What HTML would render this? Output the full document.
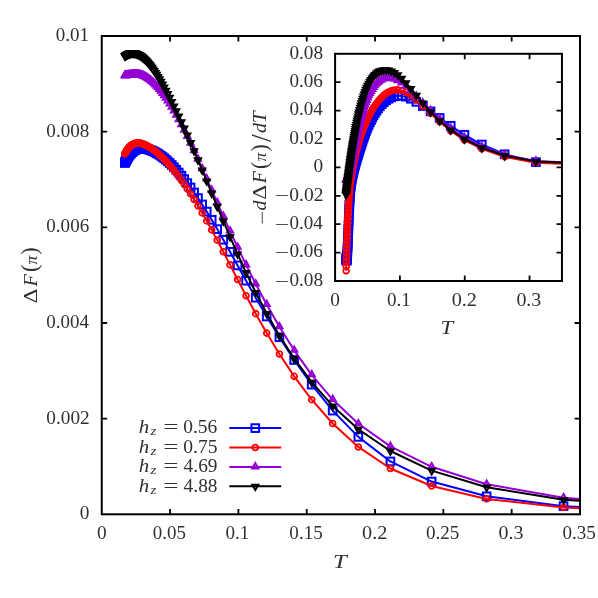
<!DOCTYPE html>
<html><head><meta charset="utf-8"><title>plot</title>
<style>html,body{margin:0;padding:0;background:#fff}svg{display:block;will-change:transform}</style></head>
<body>
<svg width="598" height="598" viewBox="0 0 598 598">
<rect width="598" height="598" fill="#fff"/>
<defs>
<clipPath id="clipm"><rect x="101.75" y="30" width="478.25" height="484.3"/></clipPath>
<clipPath id="clipi"><rect x="335.1" y="53.8" width="226.85" height="227.2"/></clipPath>
<rect id="sq" x="-3.83" y="-3.83" width="7.66" height="7.66" stroke-width="2" stroke-linejoin="miter"/>
<circle id="ci" r="2.9" stroke-width="1.8"/>
<path id="tu" d="M0 -3.8 L-3.05 1.53 L3.05 1.53 Z" stroke-width="2" stroke-linejoin="miter" stroke-miterlimit="10"/>
<path id="td" d="M0 3.8 L-3.05 -1.53 L3.05 -1.53 Z" stroke-width="2" stroke-linejoin="miter" stroke-miterlimit="10"/>
</defs>
<g clip-path="url(#clipm)" stroke="#0000ff" fill="none">
<path d="M679.07 512.26 L563.6 506.15 L486.63 496.32 L431.64 481.55 L390.41 461.45 L358.33 436.88 L332.68 410.61 L311.68 384.62 L294.19 359.99 L279.39 337.26 L266.7 316.51 L255.7 297.67 L246.08 280.68 L237.59 265.43 L230.04 251.82 L223.29 239.75 L217.21 229.11 L211.71 219.79 L206.72 211.61 L202.15 204.42 L197.97 198.07 L194.12 192.46 L190.57 187.49 L187.28 183.08 L184.22 179.15 L181.38 175.65 L178.73 172.52 L176.24 169.74 L173.91 167.25 L171.73 165.02 L169.67 163.04 L167.73 161.26 L165.9 159.67 L164.16 158.25 L162.52 156.98 L160.96 155.84 L159.48 154.83 L158.07 153.93 L156.73 153.12 L155.45 152.4 L154.23 151.76 L153.07 151.2 L151.95 150.69 L150.88 150.25 L149.86 149.85 L148.88 149.51 L147.94 149.21 L147.03 148.95 L146.16 148.73 L145.32 148.56 L144.51 148.42 L143.74 148.32 L142.99 148.25 L142.26 148.21 L141.56 148.2 L140.89 148.22 L140.24 148.27 L139.61 148.34 L139 148.44 L138.4 148.56 L137.83 148.7 L137.28 148.87 L136.74 149.05 L136.22 149.26 L135.71 149.48 L135.22 149.72 L134.74 149.98 L134.27 150.26 L133.82 150.55 L133.38 150.85 L132.96 151.17 L132.54 151.51 L132.14 151.85 L131.74 152.21 L131.36 152.58 L130.98 152.97 L130.62 153.36 L130.26 153.76 L129.91 154.18 L129.57 154.6 L129.24 155.04 L128.92 155.48 L128.6 155.93 L128.29 156.39 L127.99 156.86 L127.7 157.33 L127.41 157.82 L127.13 158.31 L126.85 158.8 L126.58 159.31 L126.32 159.82 L126.06 160.33 L125.8 160.85 L125.56 161.38 L125.31 161.91 L125.08 162.45 L124.84 162.99" stroke-width="2" stroke-linejoin="round"/>
<use href="#sq" x="679.07" y="512.26"/>
<use href="#sq" x="563.6" y="506.15"/>
<use href="#sq" x="486.63" y="496.32"/>
<use href="#sq" x="431.64" y="481.55"/>
<use href="#sq" x="390.41" y="461.45"/>
<use href="#sq" x="358.33" y="436.88"/>
<use href="#sq" x="332.68" y="410.61"/>
<use href="#sq" x="311.68" y="384.62"/>
<use href="#sq" x="294.19" y="359.99"/>
<use href="#sq" x="279.39" y="337.26"/>
<use href="#sq" x="266.7" y="316.51"/>
<use href="#sq" x="255.7" y="297.67"/>
<use href="#sq" x="246.08" y="280.68"/>
<use href="#sq" x="237.59" y="265.43"/>
<use href="#sq" x="230.04" y="251.82"/>
<use href="#sq" x="223.29" y="239.75"/>
<use href="#sq" x="217.21" y="229.11"/>
<use href="#sq" x="211.71" y="219.79"/>
<use href="#sq" x="206.72" y="211.61"/>
<use href="#sq" x="202.15" y="204.42"/>
<use href="#sq" x="197.97" y="198.07"/>
<use href="#sq" x="194.12" y="192.46"/>
<use href="#sq" x="190.57" y="187.49"/>
<use href="#sq" x="187.28" y="183.08"/>
<use href="#sq" x="184.22" y="179.15"/>
<use href="#sq" x="181.38" y="175.65"/>
<use href="#sq" x="178.73" y="172.52"/>
<use href="#sq" x="176.24" y="169.74"/>
<use href="#sq" x="173.91" y="167.25"/>
<use href="#sq" x="171.73" y="165.02"/>
<use href="#sq" x="169.67" y="163.04"/>
<use href="#sq" x="167.73" y="161.26"/>
<use href="#sq" x="165.9" y="159.67"/>
<use href="#sq" x="164.16" y="158.25"/>
<use href="#sq" x="162.52" y="156.98"/>
<use href="#sq" x="160.96" y="155.84"/>
<use href="#sq" x="159.48" y="154.83"/>
<use href="#sq" x="158.07" y="153.93"/>
<use href="#sq" x="156.73" y="153.12"/>
<use href="#sq" x="155.45" y="152.4"/>
<use href="#sq" x="154.23" y="151.76"/>
<use href="#sq" x="153.07" y="151.2"/>
<use href="#sq" x="151.95" y="150.69"/>
<use href="#sq" x="150.88" y="150.25"/>
<use href="#sq" x="149.86" y="149.85"/>
<use href="#sq" x="148.88" y="149.51"/>
<use href="#sq" x="147.94" y="149.21"/>
<use href="#sq" x="147.03" y="148.95"/>
<use href="#sq" x="146.16" y="148.73"/>
<use href="#sq" x="145.32" y="148.56"/>
<use href="#sq" x="144.51" y="148.42"/>
<use href="#sq" x="143.74" y="148.32"/>
<use href="#sq" x="142.99" y="148.25"/>
<use href="#sq" x="142.26" y="148.21"/>
<use href="#sq" x="141.56" y="148.2"/>
<use href="#sq" x="140.89" y="148.22"/>
<use href="#sq" x="140.24" y="148.27"/>
<use href="#sq" x="139.61" y="148.34"/>
<use href="#sq" x="139" y="148.44"/>
<use href="#sq" x="138.4" y="148.56"/>
<use href="#sq" x="137.83" y="148.7"/>
<use href="#sq" x="137.28" y="148.87"/>
<use href="#sq" x="136.74" y="149.05"/>
<use href="#sq" x="136.22" y="149.26"/>
<use href="#sq" x="135.71" y="149.48"/>
<use href="#sq" x="135.22" y="149.72"/>
<use href="#sq" x="134.74" y="149.98"/>
<use href="#sq" x="134.27" y="150.26"/>
<use href="#sq" x="133.82" y="150.55"/>
<use href="#sq" x="133.38" y="150.85"/>
<use href="#sq" x="132.96" y="151.17"/>
<use href="#sq" x="132.54" y="151.51"/>
<use href="#sq" x="132.14" y="151.85"/>
<use href="#sq" x="131.74" y="152.21"/>
<use href="#sq" x="131.36" y="152.58"/>
<use href="#sq" x="130.98" y="152.97"/>
<use href="#sq" x="130.62" y="153.36"/>
<use href="#sq" x="130.26" y="153.76"/>
<use href="#sq" x="129.91" y="154.18"/>
<use href="#sq" x="129.57" y="154.6"/>
<use href="#sq" x="129.24" y="155.04"/>
<use href="#sq" x="128.92" y="155.48"/>
<use href="#sq" x="128.6" y="155.93"/>
<use href="#sq" x="128.29" y="156.39"/>
<use href="#sq" x="127.99" y="156.86"/>
<use href="#sq" x="127.7" y="157.33"/>
<use href="#sq" x="127.41" y="157.82"/>
<use href="#sq" x="127.13" y="158.31"/>
<use href="#sq" x="126.85" y="158.8"/>
<use href="#sq" x="126.58" y="159.31"/>
<use href="#sq" x="126.32" y="159.82"/>
<use href="#sq" x="126.06" y="160.33"/>
<use href="#sq" x="125.8" y="160.85"/>
<use href="#sq" x="125.56" y="161.38"/>
<use href="#sq" x="125.31" y="161.91"/>
<use href="#sq" x="125.08" y="162.45"/>
<use href="#sq" x="124.84" y="162.99"/>
</g>
<g clip-path="url(#clipm)" stroke="#ff0000" fill="none">
<path d="M679.07 512.76 L563.6 507.47 L486.63 498.91 L431.64 486.04 L390.41 468.5 L358.33 446.95 L332.68 423.5 L311.68 399.68 L294.19 376.36 L279.39 354.05 L266.7 333.09 L255.7 313.64 L246.08 295.79 L237.59 279.54 L230.04 264.89 L223.29 251.78 L217.21 240.16 L211.71 229.92 L206.72 220.9 L202.15 212.93 L197.97 205.85 L194.12 199.55 L190.57 193.93 L187.28 188.9 L184.22 184.39 L181.38 180.34 L178.73 176.69 L176.24 173.4 L173.91 170.42 L171.73 167.73 L169.67 165.3 L167.73 163.1 L165.9 161.1 L164.16 159.28 L162.52 157.63 L160.96 156.13 L159.48 154.76 L158.07 153.51 L156.73 152.38 L155.45 151.34 L154.23 150.39 L153.07 149.52 L151.95 148.73 L150.88 148 L149.86 147.34 L148.88 146.74 L147.94 146.19 L147.03 145.7 L146.16 145.26 L145.32 144.86 L144.51 144.51 L143.74 144.21 L142.99 143.94 L142.26 143.72 L141.56 143.53 L140.89 143.37 L140.24 143.25 L139.61 143.16 L139 143.1 L138.4 143.07 L137.83 143.06 L137.28 143.08 L136.74 143.13 L136.22 143.2 L135.71 143.29 L135.22 143.41 L134.74 143.54 L134.27 143.7 L133.82 143.87 L133.38 144.06 L132.96 144.27 L132.54 144.49 L132.14 144.73 L131.74 144.99 L131.36 145.26 L130.98 145.54 L130.62 145.84 L130.26 146.15 L129.91 146.47 L129.57 146.81 L129.24 147.15 L128.92 147.51 L128.6 147.87 L128.29 148.25 L127.99 148.63 L127.7 149.03 L127.41 149.43 L127.13 149.85 L126.85 150.27 L126.58 150.69 L126.32 151.13 L126.06 151.57 L125.8 152.02 L125.56 152.48 L125.31 152.94 L125.08 153.41 L124.84 153.89" stroke-width="2" stroke-linejoin="round"/>
<use href="#ci" x="679.07" y="512.76"/>
<use href="#ci" x="563.6" y="507.47"/>
<use href="#ci" x="486.63" y="498.91"/>
<use href="#ci" x="431.64" y="486.04"/>
<use href="#ci" x="390.41" y="468.5"/>
<use href="#ci" x="358.33" y="446.95"/>
<use href="#ci" x="332.68" y="423.5"/>
<use href="#ci" x="311.68" y="399.68"/>
<use href="#ci" x="294.19" y="376.36"/>
<use href="#ci" x="279.39" y="354.05"/>
<use href="#ci" x="266.7" y="333.09"/>
<use href="#ci" x="255.7" y="313.64"/>
<use href="#ci" x="246.08" y="295.79"/>
<use href="#ci" x="237.59" y="279.54"/>
<use href="#ci" x="230.04" y="264.89"/>
<use href="#ci" x="223.29" y="251.78"/>
<use href="#ci" x="217.21" y="240.16"/>
<use href="#ci" x="211.71" y="229.92"/>
<use href="#ci" x="206.72" y="220.9"/>
<use href="#ci" x="202.15" y="212.93"/>
<use href="#ci" x="197.97" y="205.85"/>
<use href="#ci" x="194.12" y="199.55"/>
<use href="#ci" x="190.57" y="193.93"/>
<use href="#ci" x="187.28" y="188.9"/>
<use href="#ci" x="184.22" y="184.39"/>
<use href="#ci" x="181.38" y="180.34"/>
<use href="#ci" x="178.73" y="176.69"/>
<use href="#ci" x="176.24" y="173.4"/>
<use href="#ci" x="173.91" y="170.42"/>
<use href="#ci" x="171.73" y="167.73"/>
<use href="#ci" x="169.67" y="165.3"/>
<use href="#ci" x="167.73" y="163.1"/>
<use href="#ci" x="165.9" y="161.1"/>
<use href="#ci" x="164.16" y="159.28"/>
<use href="#ci" x="162.52" y="157.63"/>
<use href="#ci" x="160.96" y="156.13"/>
<use href="#ci" x="159.48" y="154.76"/>
<use href="#ci" x="158.07" y="153.51"/>
<use href="#ci" x="156.73" y="152.38"/>
<use href="#ci" x="155.45" y="151.34"/>
<use href="#ci" x="154.23" y="150.39"/>
<use href="#ci" x="153.07" y="149.52"/>
<use href="#ci" x="151.95" y="148.73"/>
<use href="#ci" x="150.88" y="148"/>
<use href="#ci" x="149.86" y="147.34"/>
<use href="#ci" x="148.88" y="146.74"/>
<use href="#ci" x="147.94" y="146.19"/>
<use href="#ci" x="147.03" y="145.7"/>
<use href="#ci" x="146.16" y="145.26"/>
<use href="#ci" x="145.32" y="144.86"/>
<use href="#ci" x="144.51" y="144.51"/>
<use href="#ci" x="143.74" y="144.21"/>
<use href="#ci" x="142.99" y="143.94"/>
<use href="#ci" x="142.26" y="143.72"/>
<use href="#ci" x="141.56" y="143.53"/>
<use href="#ci" x="140.89" y="143.37"/>
<use href="#ci" x="140.24" y="143.25"/>
<use href="#ci" x="139.61" y="143.16"/>
<use href="#ci" x="139" y="143.1"/>
<use href="#ci" x="138.4" y="143.07"/>
<use href="#ci" x="137.83" y="143.06"/>
<use href="#ci" x="137.28" y="143.08"/>
<use href="#ci" x="136.74" y="143.13"/>
<use href="#ci" x="136.22" y="143.2"/>
<use href="#ci" x="135.71" y="143.29"/>
<use href="#ci" x="135.22" y="143.41"/>
<use href="#ci" x="134.74" y="143.54"/>
<use href="#ci" x="134.27" y="143.7"/>
<use href="#ci" x="133.82" y="143.87"/>
<use href="#ci" x="133.38" y="144.06"/>
<use href="#ci" x="132.96" y="144.27"/>
<use href="#ci" x="132.54" y="144.49"/>
<use href="#ci" x="132.14" y="144.73"/>
<use href="#ci" x="131.74" y="144.99"/>
<use href="#ci" x="131.36" y="145.26"/>
<use href="#ci" x="130.98" y="145.54"/>
<use href="#ci" x="130.62" y="145.84"/>
<use href="#ci" x="130.26" y="146.15"/>
<use href="#ci" x="129.91" y="146.47"/>
<use href="#ci" x="129.57" y="146.81"/>
<use href="#ci" x="129.24" y="147.15"/>
<use href="#ci" x="128.92" y="147.51"/>
<use href="#ci" x="128.6" y="147.87"/>
<use href="#ci" x="128.29" y="148.25"/>
<use href="#ci" x="127.99" y="148.63"/>
<use href="#ci" x="127.7" y="149.03"/>
<use href="#ci" x="127.41" y="149.43"/>
<use href="#ci" x="127.13" y="149.85"/>
<use href="#ci" x="126.85" y="150.27"/>
<use href="#ci" x="126.58" y="150.69"/>
<use href="#ci" x="126.32" y="151.13"/>
<use href="#ci" x="126.06" y="151.57"/>
<use href="#ci" x="125.8" y="152.02"/>
<use href="#ci" x="125.56" y="152.48"/>
<use href="#ci" x="125.31" y="152.94"/>
<use href="#ci" x="125.08" y="153.41"/>
<use href="#ci" x="124.84" y="153.89"/>
</g>
<g clip-path="url(#clipm)" stroke="#9400d3" fill="none">
<path d="M679.07 506.86 L563.6 497.8 L486.63 484.23 L431.64 466.79 L390.41 446.38 L358.33 423.73 L332.68 399.54 L311.68 374.81 L294.19 350.33 L279.39 326.77 L266.7 304.57 L255.7 283.94 L246.08 264.86 L237.59 247.27 L230.04 231.09 L223.29 216.24 L217.21 202.64 L211.71 190.22 L206.72 178.89 L202.15 168.6 L197.97 159.27 L194.12 150.84 L190.57 143.26 L187.28 136.43 L184.22 130.27 L181.38 124.71 L178.73 119.68 L176.24 115.14 L173.91 111.03 L171.73 107.3 L169.67 103.93 L167.73 100.88 L165.9 98.11 L164.16 95.61 L162.52 93.35 L160.96 91.3 L159.48 89.45 L158.07 87.77 L156.73 86.25 L155.45 84.88 L154.23 83.65 L153.07 82.53 L151.95 81.53 L150.88 80.63 L149.86 79.82 L148.88 79.1 L147.94 78.45 L147.03 77.87 L146.16 77.36 L145.32 76.91 L144.51 76.51 L143.74 76.16 L142.99 75.85 L142.26 75.59 L141.56 75.36 L140.89 75.16 L140.24 75 L139.61 74.86 L139 74.75 L138.4 74.66 L137.83 74.6 L137.28 74.55 L136.74 74.51 L136.22 74.49 L135.71 74.49 L135.22 74.49 L134.74 74.51 L134.27 74.53 L133.82 74.57 L133.38 74.61 L132.96 74.65 L132.54 74.7 L132.14 74.75 L131.74 74.81 L131.36 74.86 L130.98 74.92 L130.62 74.98 L130.26 75.04 L129.91 75.1 L129.57 75.15 L129.24 75.21 L128.92 75.26 L128.6 75.31 L128.29 75.36 L127.99 75.4 L127.7 75.44 L127.41 75.48 L127.13 75.51 L126.85 75.54 L126.58 75.57 L126.32 75.58 L126.06 75.6 L125.8 75.6 L125.56 75.61 L125.31 75.6 L125.08 75.59 L124.84 75.58" stroke-width="2" stroke-linejoin="round"/>
<use href="#tu" x="679.07" y="506.86"/>
<use href="#tu" x="563.6" y="497.8"/>
<use href="#tu" x="486.63" y="484.23"/>
<use href="#tu" x="431.64" y="466.79"/>
<use href="#tu" x="390.41" y="446.38"/>
<use href="#tu" x="358.33" y="423.73"/>
<use href="#tu" x="332.68" y="399.54"/>
<use href="#tu" x="311.68" y="374.81"/>
<use href="#tu" x="294.19" y="350.33"/>
<use href="#tu" x="279.39" y="326.77"/>
<use href="#tu" x="266.7" y="304.57"/>
<use href="#tu" x="255.7" y="283.94"/>
<use href="#tu" x="246.08" y="264.86"/>
<use href="#tu" x="237.59" y="247.27"/>
<use href="#tu" x="230.04" y="231.09"/>
<use href="#tu" x="223.29" y="216.24"/>
<use href="#tu" x="217.21" y="202.64"/>
<use href="#tu" x="211.71" y="190.22"/>
<use href="#tu" x="206.72" y="178.89"/>
<use href="#tu" x="202.15" y="168.6"/>
<use href="#tu" x="197.97" y="159.27"/>
<use href="#tu" x="194.12" y="150.84"/>
<use href="#tu" x="190.57" y="143.26"/>
<use href="#tu" x="187.28" y="136.43"/>
<use href="#tu" x="184.22" y="130.27"/>
<use href="#tu" x="181.38" y="124.71"/>
<use href="#tu" x="178.73" y="119.68"/>
<use href="#tu" x="176.24" y="115.14"/>
<use href="#tu" x="173.91" y="111.03"/>
<use href="#tu" x="171.73" y="107.3"/>
<use href="#tu" x="169.67" y="103.93"/>
<use href="#tu" x="167.73" y="100.88"/>
<use href="#tu" x="165.9" y="98.11"/>
<use href="#tu" x="164.16" y="95.61"/>
<use href="#tu" x="162.52" y="93.35"/>
<use href="#tu" x="160.96" y="91.3"/>
<use href="#tu" x="159.48" y="89.45"/>
<use href="#tu" x="158.07" y="87.77"/>
<use href="#tu" x="156.73" y="86.25"/>
<use href="#tu" x="155.45" y="84.88"/>
<use href="#tu" x="154.23" y="83.65"/>
<use href="#tu" x="153.07" y="82.53"/>
<use href="#tu" x="151.95" y="81.53"/>
<use href="#tu" x="150.88" y="80.63"/>
<use href="#tu" x="149.86" y="79.82"/>
<use href="#tu" x="148.88" y="79.1"/>
<use href="#tu" x="147.94" y="78.45"/>
<use href="#tu" x="147.03" y="77.87"/>
<use href="#tu" x="146.16" y="77.36"/>
<use href="#tu" x="145.32" y="76.91"/>
<use href="#tu" x="144.51" y="76.51"/>
<use href="#tu" x="143.74" y="76.16"/>
<use href="#tu" x="142.99" y="75.85"/>
<use href="#tu" x="142.26" y="75.59"/>
<use href="#tu" x="141.56" y="75.36"/>
<use href="#tu" x="140.89" y="75.16"/>
<use href="#tu" x="140.24" y="75"/>
<use href="#tu" x="139.61" y="74.86"/>
<use href="#tu" x="139" y="74.75"/>
<use href="#tu" x="138.4" y="74.66"/>
<use href="#tu" x="137.83" y="74.6"/>
<use href="#tu" x="137.28" y="74.55"/>
<use href="#tu" x="136.74" y="74.51"/>
<use href="#tu" x="136.22" y="74.49"/>
<use href="#tu" x="135.71" y="74.49"/>
<use href="#tu" x="135.22" y="74.49"/>
<use href="#tu" x="134.74" y="74.51"/>
<use href="#tu" x="134.27" y="74.53"/>
<use href="#tu" x="133.82" y="74.57"/>
<use href="#tu" x="133.38" y="74.61"/>
<use href="#tu" x="132.96" y="74.65"/>
<use href="#tu" x="132.54" y="74.7"/>
<use href="#tu" x="132.14" y="74.75"/>
<use href="#tu" x="131.74" y="74.81"/>
<use href="#tu" x="131.36" y="74.86"/>
<use href="#tu" x="130.98" y="74.92"/>
<use href="#tu" x="130.62" y="74.98"/>
<use href="#tu" x="130.26" y="75.04"/>
<use href="#tu" x="129.91" y="75.1"/>
<use href="#tu" x="129.57" y="75.15"/>
<use href="#tu" x="129.24" y="75.21"/>
<use href="#tu" x="128.92" y="75.26"/>
<use href="#tu" x="128.6" y="75.31"/>
<use href="#tu" x="128.29" y="75.36"/>
<use href="#tu" x="127.99" y="75.4"/>
<use href="#tu" x="127.7" y="75.44"/>
<use href="#tu" x="127.41" y="75.48"/>
<use href="#tu" x="127.13" y="75.51"/>
<use href="#tu" x="126.85" y="75.54"/>
<use href="#tu" x="126.58" y="75.57"/>
<use href="#tu" x="126.32" y="75.58"/>
<use href="#tu" x="126.06" y="75.6"/>
<use href="#tu" x="125.8" y="75.6"/>
<use href="#tu" x="125.56" y="75.61"/>
<use href="#tu" x="125.31" y="75.6"/>
<use href="#tu" x="125.08" y="75.59"/>
<use href="#tu" x="124.84" y="75.58"/>
</g>
<g clip-path="url(#clipm)" stroke="#000000" fill="none">
<path d="M679.07 506.77 L563.6 499.71 L486.63 487.17 L431.64 470.59 L390.41 451.02 L358.33 429.24 L332.68 405.95 L311.68 382.17 L294.19 358.61 L279.39 335.66 L266.7 313.57 L255.7 292.5 L246.08 272.61 L237.59 254.02 L230.04 236.78 L223.29 220.91 L217.21 206.37 L211.71 193.08 L206.72 180.95 L202.15 169.91 L197.97 159.87 L194.12 150.76 L190.57 142.47 L187.28 134.93 L184.22 128.05 L181.38 121.77 L178.73 116.02 L176.24 110.74 L173.91 105.91 L171.73 101.46 L169.67 97.38 L167.73 93.62 L165.9 90.16 L164.16 86.97 L162.52 84.03 L160.96 81.32 L159.48 78.82 L158.07 76.51 L156.73 74.38 L155.45 72.42 L154.23 70.6 L153.07 68.93 L151.95 67.38 L150.88 65.96 L149.86 64.65 L148.88 63.44 L147.94 62.33 L147.03 61.31 L146.16 60.37 L145.32 59.51 L144.51 58.72 L143.74 58 L142.99 57.34 L142.26 56.74 L141.56 56.2 L140.89 55.71 L140.24 55.26 L139.61 54.86 L139 54.5 L138.4 54.19 L137.83 53.9 L137.28 53.66 L136.74 53.44 L136.22 53.26 L135.71 53.1 L135.22 52.97 L134.74 52.87 L134.27 52.78 L133.82 52.72 L133.38 52.68 L132.96 52.66 L132.54 52.66 L132.14 52.67 L131.74 52.7 L131.36 52.74 L130.98 52.8 L130.62 52.87 L130.26 52.95 L129.91 53.04 L129.57 53.15 L129.24 53.26 L128.92 53.38 L128.6 53.51 L128.29 53.65 L127.99 53.79 L127.7 53.94 L127.41 54.1 L127.13 54.26 L126.85 54.43 L126.58 54.6 L126.32 54.78 L126.06 54.96 L125.8 55.14 L125.56 55.33 L125.31 55.52 L125.08 55.71 L124.84 55.91" stroke-width="2" stroke-linejoin="round"/>
<use href="#td" x="679.07" y="506.77"/>
<use href="#td" x="563.6" y="499.71"/>
<use href="#td" x="486.63" y="487.17"/>
<use href="#td" x="431.64" y="470.59"/>
<use href="#td" x="390.41" y="451.02"/>
<use href="#td" x="358.33" y="429.24"/>
<use href="#td" x="332.68" y="405.95"/>
<use href="#td" x="311.68" y="382.17"/>
<use href="#td" x="294.19" y="358.61"/>
<use href="#td" x="279.39" y="335.66"/>
<use href="#td" x="266.7" y="313.57"/>
<use href="#td" x="255.7" y="292.5"/>
<use href="#td" x="246.08" y="272.61"/>
<use href="#td" x="237.59" y="254.02"/>
<use href="#td" x="230.04" y="236.78"/>
<use href="#td" x="223.29" y="220.91"/>
<use href="#td" x="217.21" y="206.37"/>
<use href="#td" x="211.71" y="193.08"/>
<use href="#td" x="206.72" y="180.95"/>
<use href="#td" x="202.15" y="169.91"/>
<use href="#td" x="197.97" y="159.87"/>
<use href="#td" x="194.12" y="150.76"/>
<use href="#td" x="190.57" y="142.47"/>
<use href="#td" x="187.28" y="134.93"/>
<use href="#td" x="184.22" y="128.05"/>
<use href="#td" x="181.38" y="121.77"/>
<use href="#td" x="178.73" y="116.02"/>
<use href="#td" x="176.24" y="110.74"/>
<use href="#td" x="173.91" y="105.91"/>
<use href="#td" x="171.73" y="101.46"/>
<use href="#td" x="169.67" y="97.38"/>
<use href="#td" x="167.73" y="93.62"/>
<use href="#td" x="165.9" y="90.16"/>
<use href="#td" x="164.16" y="86.97"/>
<use href="#td" x="162.52" y="84.03"/>
<use href="#td" x="160.96" y="81.32"/>
<use href="#td" x="159.48" y="78.82"/>
<use href="#td" x="158.07" y="76.51"/>
<use href="#td" x="156.73" y="74.38"/>
<use href="#td" x="155.45" y="72.42"/>
<use href="#td" x="154.23" y="70.6"/>
<use href="#td" x="153.07" y="68.93"/>
<use href="#td" x="151.95" y="67.38"/>
<use href="#td" x="150.88" y="65.96"/>
<use href="#td" x="149.86" y="64.65"/>
<use href="#td" x="148.88" y="63.44"/>
<use href="#td" x="147.94" y="62.33"/>
<use href="#td" x="147.03" y="61.31"/>
<use href="#td" x="146.16" y="60.37"/>
<use href="#td" x="145.32" y="59.51"/>
<use href="#td" x="144.51" y="58.72"/>
<use href="#td" x="143.74" y="58"/>
<use href="#td" x="142.99" y="57.34"/>
<use href="#td" x="142.26" y="56.74"/>
<use href="#td" x="141.56" y="56.2"/>
<use href="#td" x="140.89" y="55.71"/>
<use href="#td" x="140.24" y="55.26"/>
<use href="#td" x="139.61" y="54.86"/>
<use href="#td" x="139" y="54.5"/>
<use href="#td" x="138.4" y="54.19"/>
<use href="#td" x="137.83" y="53.9"/>
<use href="#td" x="137.28" y="53.66"/>
<use href="#td" x="136.74" y="53.44"/>
<use href="#td" x="136.22" y="53.26"/>
<use href="#td" x="135.71" y="53.1"/>
<use href="#td" x="135.22" y="52.97"/>
<use href="#td" x="134.74" y="52.87"/>
<use href="#td" x="134.27" y="52.78"/>
<use href="#td" x="133.82" y="52.72"/>
<use href="#td" x="133.38" y="52.68"/>
<use href="#td" x="132.96" y="52.66"/>
<use href="#td" x="132.54" y="52.66"/>
<use href="#td" x="132.14" y="52.67"/>
<use href="#td" x="131.74" y="52.7"/>
<use href="#td" x="131.36" y="52.74"/>
<use href="#td" x="130.98" y="52.8"/>
<use href="#td" x="130.62" y="52.87"/>
<use href="#td" x="130.26" y="52.95"/>
<use href="#td" x="129.91" y="53.04"/>
<use href="#td" x="129.57" y="53.15"/>
<use href="#td" x="129.24" y="53.26"/>
<use href="#td" x="128.92" y="53.38"/>
<use href="#td" x="128.6" y="53.51"/>
<use href="#td" x="128.29" y="53.65"/>
<use href="#td" x="127.99" y="53.79"/>
<use href="#td" x="127.7" y="53.94"/>
<use href="#td" x="127.41" y="54.1"/>
<use href="#td" x="127.13" y="54.26"/>
<use href="#td" x="126.85" y="54.43"/>
<use href="#td" x="126.58" y="54.6"/>
<use href="#td" x="126.32" y="54.78"/>
<use href="#td" x="126.06" y="54.96"/>
<use href="#td" x="125.8" y="55.14"/>
<use href="#td" x="125.56" y="55.33"/>
<use href="#td" x="125.31" y="55.52"/>
<use href="#td" x="125.08" y="55.71"/>
<use href="#td" x="124.84" y="55.91"/>
</g>
<g clip-path="url(#clipi)" stroke="#0000ff" fill="none">
<path d="M581.56 163.85 L535.92 162.12 L504.62 154.27 L481.8 144.53 L464.41 134.77 L450.72 125.79 L439.66 117.96 L430.53 111.38 L422.87 106.03 L416.35 101.85 L410.73 98.73 L405.84 96.67 L401.55 95.86 L397.74 95.78 L394.35 96.32 L391.31 97.38 L388.56 98.77 L386.07 100.38 L383.81 102.18 L381.73 104.16 L379.83 106.26 L378.07 108.47 L376.45 110.74 L374.94 113.05 L373.55 115.36 L372.24 117.67 L371.02 119.97 L369.88 122.24 L368.81 124.48 L367.8 126.68 L366.86 128.97 L365.96 131.27 L365.12 133.52 L364.31 135.72 L363.56 137.87 L362.84 139.95 L362.15 141.96 L361.5 143.91 L360.88 145.77 L360.28 147.56 L359.72 149.28 L359.18 150.95 L358.66 152.56 L358.16 154.12 L357.69 155.65 L357.23 157.13 L356.79 158.59 L356.37 160.02 L355.97 161.42 L355.58 162.8 L355.2 164.16 L354.84 165.51 L354.49 166.85 L354.15 168.17 L353.83 169.49 L353.51 170.8 L353.21 172.1 L352.91 173.4 L352.63 174.69 L352.35 175.99 L352.08 177.29 L351.82 178.62 L351.57 180.03 L351.33 181.55 L351.09 183.21 L350.86 185.05 L350.64 187.09 L350.42 189.36 L350.21 191.87 L350 194.66 L349.8 197.73 L349.61 201.1 L349.42 204.73 L349.23 208.56 L349.05 212.53 L348.88 216.59 L348.71 220.68 L348.54 224.76 L348.38 228.78 L348.22 232.69 L348.06 236.47 L347.91 240.08 L347.76 243.48 L347.62 246.65 L347.48 249.55 L347.34 252.16 L347.2 254.46 L347.07 256.42 L346.94 258.03 L346.82 259.25 L346.69 260.09 L346.57 260.52 L346.45 260.52 L346.33 260.09 L346.22 259.2 L346.11 257.86" stroke-width="2" stroke-linejoin="round"/>
<use href="#sq" x="581.56" y="163.85"/>
<use href="#sq" x="535.92" y="162.12"/>
<use href="#sq" x="504.62" y="154.27"/>
<use href="#sq" x="481.8" y="144.53"/>
<use href="#sq" x="464.41" y="134.77"/>
<use href="#sq" x="450.72" y="125.79"/>
<use href="#sq" x="439.66" y="117.96"/>
<use href="#sq" x="430.53" y="111.38"/>
<use href="#sq" x="422.87" y="106.03"/>
<use href="#sq" x="416.35" y="101.85"/>
<use href="#sq" x="410.73" y="98.73"/>
<use href="#sq" x="405.84" y="96.67"/>
<use href="#sq" x="401.55" y="95.86"/>
<use href="#sq" x="397.74" y="95.78"/>
<use href="#sq" x="394.35" y="96.32"/>
<use href="#sq" x="391.31" y="97.38"/>
<use href="#sq" x="388.56" y="98.77"/>
<use href="#sq" x="386.07" y="100.38"/>
<use href="#sq" x="383.81" y="102.18"/>
<use href="#sq" x="381.73" y="104.16"/>
<use href="#sq" x="379.83" y="106.26"/>
<use href="#sq" x="378.07" y="108.47"/>
<use href="#sq" x="376.45" y="110.74"/>
<use href="#sq" x="374.94" y="113.05"/>
<use href="#sq" x="373.55" y="115.36"/>
<use href="#sq" x="372.24" y="117.67"/>
<use href="#sq" x="371.02" y="119.97"/>
<use href="#sq" x="369.88" y="122.24"/>
<use href="#sq" x="368.81" y="124.48"/>
<use href="#sq" x="367.8" y="126.68"/>
<use href="#sq" x="366.86" y="128.97"/>
<use href="#sq" x="365.96" y="131.27"/>
<use href="#sq" x="365.12" y="133.52"/>
<use href="#sq" x="364.31" y="135.72"/>
<use href="#sq" x="363.56" y="137.87"/>
<use href="#sq" x="362.84" y="139.95"/>
<use href="#sq" x="362.15" y="141.96"/>
<use href="#sq" x="361.5" y="143.91"/>
<use href="#sq" x="360.88" y="145.77"/>
<use href="#sq" x="360.28" y="147.56"/>
<use href="#sq" x="359.72" y="149.28"/>
<use href="#sq" x="359.18" y="150.95"/>
<use href="#sq" x="358.66" y="152.56"/>
<use href="#sq" x="358.16" y="154.12"/>
<use href="#sq" x="357.69" y="155.65"/>
<use href="#sq" x="357.23" y="157.13"/>
<use href="#sq" x="356.79" y="158.59"/>
<use href="#sq" x="356.37" y="160.02"/>
<use href="#sq" x="355.97" y="161.42"/>
<use href="#sq" x="355.58" y="162.8"/>
<use href="#sq" x="355.2" y="164.16"/>
<use href="#sq" x="354.84" y="165.51"/>
<use href="#sq" x="354.49" y="166.85"/>
<use href="#sq" x="354.15" y="168.17"/>
<use href="#sq" x="353.83" y="169.49"/>
<use href="#sq" x="353.51" y="170.8"/>
<use href="#sq" x="353.21" y="172.1"/>
<use href="#sq" x="352.91" y="173.4"/>
<use href="#sq" x="352.63" y="174.69"/>
<use href="#sq" x="352.35" y="175.99"/>
<use href="#sq" x="352.08" y="177.29"/>
<use href="#sq" x="351.82" y="178.62"/>
<use href="#sq" x="351.57" y="180.03"/>
<use href="#sq" x="351.33" y="181.55"/>
<use href="#sq" x="351.09" y="183.21"/>
<use href="#sq" x="350.86" y="185.05"/>
<use href="#sq" x="350.64" y="187.09"/>
<use href="#sq" x="350.42" y="189.36"/>
<use href="#sq" x="350.21" y="191.87"/>
<use href="#sq" x="350" y="194.66"/>
<use href="#sq" x="349.8" y="197.73"/>
<use href="#sq" x="349.61" y="201.1"/>
<use href="#sq" x="349.42" y="204.73"/>
<use href="#sq" x="349.23" y="208.56"/>
<use href="#sq" x="349.05" y="212.53"/>
<use href="#sq" x="348.88" y="216.59"/>
<use href="#sq" x="348.71" y="220.68"/>
<use href="#sq" x="348.54" y="224.76"/>
<use href="#sq" x="348.38" y="228.78"/>
<use href="#sq" x="348.22" y="232.69"/>
<use href="#sq" x="348.06" y="236.47"/>
<use href="#sq" x="347.91" y="240.08"/>
<use href="#sq" x="347.76" y="243.48"/>
<use href="#sq" x="347.62" y="246.65"/>
<use href="#sq" x="347.48" y="249.55"/>
<use href="#sq" x="347.34" y="252.16"/>
<use href="#sq" x="347.2" y="254.46"/>
<use href="#sq" x="347.07" y="256.42"/>
<use href="#sq" x="346.94" y="258.03"/>
<use href="#sq" x="346.82" y="259.25"/>
<use href="#sq" x="346.69" y="260.09"/>
<use href="#sq" x="346.57" y="260.52"/>
<use href="#sq" x="346.45" y="260.52"/>
<use href="#sq" x="346.33" y="260.09"/>
<use href="#sq" x="346.22" y="259.2"/>
<use href="#sq" x="346.11" y="257.86"/>
</g>
<g clip-path="url(#clipi)" stroke="#ff0000" fill="none">
<path d="M581.56 164.51 L535.92 162.72 L504.62 156.82 L481.8 148.92 L464.41 140.09 L450.72 130.89 L439.66 121.73 L430.53 113.28 L422.87 105.96 L416.35 99.99 L410.73 95.44 L405.84 92.33 L401.55 90.58 L397.74 89.89 L394.35 90.02 L391.31 90.77 L388.56 91.97 L386.07 93.51 L383.81 95.29 L381.73 97.24 L379.83 99.3 L378.07 101.41 L376.45 103.55 L374.94 105.68 L373.55 107.81 L372.24 109.92 L371.02 112.02 L369.88 114.1 L368.81 116.16 L367.8 118.2 L366.86 120.22 L365.96 122.22 L365.12 124.2 L364.31 126.16 L363.56 128.09 L362.84 130.01 L362.15 131.9 L361.5 133.77 L360.88 135.61 L360.28 137.44 L359.72 139.24 L359.18 141.02 L358.66 142.78 L358.16 144.52 L357.69 146.24 L357.23 147.94 L356.79 149.62 L356.37 151.27 L355.97 152.91 L355.58 154.53 L355.2 156.13 L354.84 157.71 L354.49 159.27 L354.15 160.82 L353.83 162.34 L353.51 163.85 L353.21 165.34 L352.91 166.82 L352.63 168.27 L352.35 169.72 L352.08 171.17 L351.82 172.63 L351.57 174.11 L351.33 175.63 L351.09 177.2 L350.86 178.81 L350.64 180.48 L350.42 182.22 L350.21 184.03 L350 185.91 L349.8 187.88 L349.61 189.93 L349.42 192.07 L349.23 194.31 L349.05 196.64 L348.88 199.07 L348.71 201.61 L348.54 204.25 L348.38 206.99 L348.22 209.85 L348.06 212.81 L347.91 215.88 L347.76 219.07 L347.62 222.37 L347.48 225.78 L347.34 229.3 L347.2 232.94 L347.07 236.7 L346.94 240.57 L346.82 244.55 L346.69 248.65 L346.57 252.86 L346.45 257.19 L346.33 261.63 L346.22 266.19 L346.11 270.86" stroke-width="2" stroke-linejoin="round"/>
<use href="#ci" x="581.56" y="164.51"/>
<use href="#ci" x="535.92" y="162.72"/>
<use href="#ci" x="504.62" y="156.82"/>
<use href="#ci" x="481.8" y="148.92"/>
<use href="#ci" x="464.41" y="140.09"/>
<use href="#ci" x="450.72" y="130.89"/>
<use href="#ci" x="439.66" y="121.73"/>
<use href="#ci" x="430.53" y="113.28"/>
<use href="#ci" x="422.87" y="105.96"/>
<use href="#ci" x="416.35" y="99.99"/>
<use href="#ci" x="410.73" y="95.44"/>
<use href="#ci" x="405.84" y="92.33"/>
<use href="#ci" x="401.55" y="90.58"/>
<use href="#ci" x="397.74" y="89.89"/>
<use href="#ci" x="394.35" y="90.02"/>
<use href="#ci" x="391.31" y="90.77"/>
<use href="#ci" x="388.56" y="91.97"/>
<use href="#ci" x="386.07" y="93.51"/>
<use href="#ci" x="383.81" y="95.29"/>
<use href="#ci" x="381.73" y="97.24"/>
<use href="#ci" x="379.83" y="99.3"/>
<use href="#ci" x="378.07" y="101.41"/>
<use href="#ci" x="376.45" y="103.55"/>
<use href="#ci" x="374.94" y="105.68"/>
<use href="#ci" x="373.55" y="107.81"/>
<use href="#ci" x="372.24" y="109.92"/>
<use href="#ci" x="371.02" y="112.02"/>
<use href="#ci" x="369.88" y="114.1"/>
<use href="#ci" x="368.81" y="116.16"/>
<use href="#ci" x="367.8" y="118.2"/>
<use href="#ci" x="366.86" y="120.22"/>
<use href="#ci" x="365.96" y="122.22"/>
<use href="#ci" x="365.12" y="124.2"/>
<use href="#ci" x="364.31" y="126.16"/>
<use href="#ci" x="363.56" y="128.09"/>
<use href="#ci" x="362.84" y="130.01"/>
<use href="#ci" x="362.15" y="131.9"/>
<use href="#ci" x="361.5" y="133.77"/>
<use href="#ci" x="360.88" y="135.61"/>
<use href="#ci" x="360.28" y="137.44"/>
<use href="#ci" x="359.72" y="139.24"/>
<use href="#ci" x="359.18" y="141.02"/>
<use href="#ci" x="358.66" y="142.78"/>
<use href="#ci" x="358.16" y="144.52"/>
<use href="#ci" x="357.69" y="146.24"/>
<use href="#ci" x="357.23" y="147.94"/>
<use href="#ci" x="356.79" y="149.62"/>
<use href="#ci" x="356.37" y="151.27"/>
<use href="#ci" x="355.97" y="152.91"/>
<use href="#ci" x="355.58" y="154.53"/>
<use href="#ci" x="355.2" y="156.13"/>
<use href="#ci" x="354.84" y="157.71"/>
<use href="#ci" x="354.49" y="159.27"/>
<use href="#ci" x="354.15" y="160.82"/>
<use href="#ci" x="353.83" y="162.34"/>
<use href="#ci" x="353.51" y="163.85"/>
<use href="#ci" x="353.21" y="165.34"/>
<use href="#ci" x="352.91" y="166.82"/>
<use href="#ci" x="352.63" y="168.27"/>
<use href="#ci" x="352.35" y="169.72"/>
<use href="#ci" x="352.08" y="171.17"/>
<use href="#ci" x="351.82" y="172.63"/>
<use href="#ci" x="351.57" y="174.11"/>
<use href="#ci" x="351.33" y="175.63"/>
<use href="#ci" x="351.09" y="177.2"/>
<use href="#ci" x="350.86" y="178.81"/>
<use href="#ci" x="350.64" y="180.48"/>
<use href="#ci" x="350.42" y="182.22"/>
<use href="#ci" x="350.21" y="184.03"/>
<use href="#ci" x="350" y="185.91"/>
<use href="#ci" x="349.8" y="187.88"/>
<use href="#ci" x="349.61" y="189.93"/>
<use href="#ci" x="349.42" y="192.07"/>
<use href="#ci" x="349.23" y="194.31"/>
<use href="#ci" x="349.05" y="196.64"/>
<use href="#ci" x="348.88" y="199.07"/>
<use href="#ci" x="348.71" y="201.61"/>
<use href="#ci" x="348.54" y="204.25"/>
<use href="#ci" x="348.38" y="206.99"/>
<use href="#ci" x="348.22" y="209.85"/>
<use href="#ci" x="348.06" y="212.81"/>
<use href="#ci" x="347.91" y="215.88"/>
<use href="#ci" x="347.76" y="219.07"/>
<use href="#ci" x="347.62" y="222.37"/>
<use href="#ci" x="347.48" y="225.78"/>
<use href="#ci" x="347.34" y="229.3"/>
<use href="#ci" x="347.2" y="232.94"/>
<use href="#ci" x="347.07" y="236.7"/>
<use href="#ci" x="346.94" y="240.57"/>
<use href="#ci" x="346.82" y="244.55"/>
<use href="#ci" x="346.69" y="248.65"/>
<use href="#ci" x="346.57" y="252.86"/>
<use href="#ci" x="346.45" y="257.19"/>
<use href="#ci" x="346.33" y="261.63"/>
<use href="#ci" x="346.22" y="266.19"/>
<use href="#ci" x="346.11" y="270.86"/>
</g>
<g clip-path="url(#clipi)" stroke="#9400d3" fill="none">
<path d="M581.56 163.32 L535.92 161.08 L504.62 154.74 L481.8 146.51 L464.41 137.49 L450.72 128.22 L439.66 119.08 L430.53 110.57 L422.87 102.94 L416.35 96.28 L410.73 90.75 L405.84 86.33 L401.55 83.05 L397.74 80.78 L394.35 79.28 L391.31 78.45 L388.56 78.17 L386.07 78.38 L383.81 78.97 L381.73 79.87 L379.83 81.02 L378.07 82.39 L376.45 83.95 L374.94 85.65 L373.55 87.49 L372.24 89.43 L371.02 91.47 L369.88 93.59 L368.81 95.81 L367.8 98.09 L366.86 100.43 L365.96 102.8 L365.12 105.18 L364.31 107.57 L363.56 109.95 L362.84 112.32 L362.15 114.67 L361.5 117.01 L360.88 119.32 L360.28 121.6 L359.72 123.85 L359.18 126.06 L358.66 128.24 L358.16 130.37 L357.69 132.45 L357.23 134.42 L356.79 136.35 L356.37 138.24 L355.97 140.08 L355.58 141.88 L355.2 143.63 L354.84 145.33 L354.49 146.99 L354.15 148.6 L353.83 150.17 L353.51 151.69 L353.21 153.17 L352.91 154.59 L352.63 155.98 L352.35 157.32 L352.08 158.61 L351.82 159.86 L351.57 161.07 L351.33 162.24 L351.09 163.36 L350.86 164.44 L350.64 165.48 L350.42 166.48 L350.21 167.44 L350 168.35 L349.8 169.23 L349.61 170.07 L349.42 170.88 L349.23 171.64 L349.05 172.37 L348.88 173.07 L348.71 173.72 L348.54 174.34 L348.38 174.93 L348.22 175.48 L348.06 176 L347.91 176.49 L347.76 176.95 L347.62 177.37 L347.48 177.76 L347.34 178.12 L347.2 178.45 L347.07 178.75 L346.94 179.02 L346.82 179.26 L346.69 179.47 L346.57 179.66 L346.45 179.82 L346.33 179.95 L346.22 180.05 L346.11 180.13" stroke-width="2" stroke-linejoin="round"/>
<use href="#tu" x="581.56" y="163.32"/>
<use href="#tu" x="535.92" y="161.08"/>
<use href="#tu" x="504.62" y="154.74"/>
<use href="#tu" x="481.8" y="146.51"/>
<use href="#tu" x="464.41" y="137.49"/>
<use href="#tu" x="450.72" y="128.22"/>
<use href="#tu" x="439.66" y="119.08"/>
<use href="#tu" x="430.53" y="110.57"/>
<use href="#tu" x="422.87" y="102.94"/>
<use href="#tu" x="416.35" y="96.28"/>
<use href="#tu" x="410.73" y="90.75"/>
<use href="#tu" x="405.84" y="86.33"/>
<use href="#tu" x="401.55" y="83.05"/>
<use href="#tu" x="397.74" y="80.78"/>
<use href="#tu" x="394.35" y="79.28"/>
<use href="#tu" x="391.31" y="78.45"/>
<use href="#tu" x="388.56" y="78.17"/>
<use href="#tu" x="386.07" y="78.38"/>
<use href="#tu" x="383.81" y="78.97"/>
<use href="#tu" x="381.73" y="79.87"/>
<use href="#tu" x="379.83" y="81.02"/>
<use href="#tu" x="378.07" y="82.39"/>
<use href="#tu" x="376.45" y="83.95"/>
<use href="#tu" x="374.94" y="85.65"/>
<use href="#tu" x="373.55" y="87.49"/>
<use href="#tu" x="372.24" y="89.43"/>
<use href="#tu" x="371.02" y="91.47"/>
<use href="#tu" x="369.88" y="93.59"/>
<use href="#tu" x="368.81" y="95.81"/>
<use href="#tu" x="367.8" y="98.09"/>
<use href="#tu" x="366.86" y="100.43"/>
<use href="#tu" x="365.96" y="102.8"/>
<use href="#tu" x="365.12" y="105.18"/>
<use href="#tu" x="364.31" y="107.57"/>
<use href="#tu" x="363.56" y="109.95"/>
<use href="#tu" x="362.84" y="112.32"/>
<use href="#tu" x="362.15" y="114.67"/>
<use href="#tu" x="361.5" y="117.01"/>
<use href="#tu" x="360.88" y="119.32"/>
<use href="#tu" x="360.28" y="121.6"/>
<use href="#tu" x="359.72" y="123.85"/>
<use href="#tu" x="359.18" y="126.06"/>
<use href="#tu" x="358.66" y="128.24"/>
<use href="#tu" x="358.16" y="130.37"/>
<use href="#tu" x="357.69" y="132.45"/>
<use href="#tu" x="357.23" y="134.42"/>
<use href="#tu" x="356.79" y="136.35"/>
<use href="#tu" x="356.37" y="138.24"/>
<use href="#tu" x="355.97" y="140.08"/>
<use href="#tu" x="355.58" y="141.88"/>
<use href="#tu" x="355.2" y="143.63"/>
<use href="#tu" x="354.84" y="145.33"/>
<use href="#tu" x="354.49" y="146.99"/>
<use href="#tu" x="354.15" y="148.6"/>
<use href="#tu" x="353.83" y="150.17"/>
<use href="#tu" x="353.51" y="151.69"/>
<use href="#tu" x="353.21" y="153.17"/>
<use href="#tu" x="352.91" y="154.59"/>
<use href="#tu" x="352.63" y="155.98"/>
<use href="#tu" x="352.35" y="157.32"/>
<use href="#tu" x="352.08" y="158.61"/>
<use href="#tu" x="351.82" y="159.86"/>
<use href="#tu" x="351.57" y="161.07"/>
<use href="#tu" x="351.33" y="162.24"/>
<use href="#tu" x="351.09" y="163.36"/>
<use href="#tu" x="350.86" y="164.44"/>
<use href="#tu" x="350.64" y="165.48"/>
<use href="#tu" x="350.42" y="166.48"/>
<use href="#tu" x="350.21" y="167.44"/>
<use href="#tu" x="350" y="168.35"/>
<use href="#tu" x="349.8" y="169.23"/>
<use href="#tu" x="349.61" y="170.07"/>
<use href="#tu" x="349.42" y="170.88"/>
<use href="#tu" x="349.23" y="171.64"/>
<use href="#tu" x="349.05" y="172.37"/>
<use href="#tu" x="348.88" y="173.07"/>
<use href="#tu" x="348.71" y="173.72"/>
<use href="#tu" x="348.54" y="174.34"/>
<use href="#tu" x="348.38" y="174.93"/>
<use href="#tu" x="348.22" y="175.48"/>
<use href="#tu" x="348.06" y="176"/>
<use href="#tu" x="347.91" y="176.49"/>
<use href="#tu" x="347.76" y="176.95"/>
<use href="#tu" x="347.62" y="177.37"/>
<use href="#tu" x="347.48" y="177.76"/>
<use href="#tu" x="347.34" y="178.12"/>
<use href="#tu" x="347.2" y="178.45"/>
<use href="#tu" x="347.07" y="178.75"/>
<use href="#tu" x="346.94" y="179.02"/>
<use href="#tu" x="346.82" y="179.26"/>
<use href="#tu" x="346.69" y="179.47"/>
<use href="#tu" x="346.57" y="179.66"/>
<use href="#tu" x="346.45" y="179.82"/>
<use href="#tu" x="346.33" y="179.95"/>
<use href="#tu" x="346.22" y="180.05"/>
<use href="#tu" x="346.11" y="180.13"/>
</g>
<g clip-path="url(#clipi)" stroke="#000000" fill="none">
<path d="M581.56 163.4 L535.92 161.47 L504.62 155.57 L481.8 147.76 L464.41 139.04 L450.72 129.94 L439.66 120.75 L430.53 111.69 L422.87 103.02 L416.35 95.21 L410.73 88.42 L405.84 82.74 L401.55 78.16 L397.74 74.8 L394.35 72.48 L391.31 70.94 L388.56 70.04 L386.07 69.66 L383.81 69.73 L381.73 70.17 L379.83 70.9 L378.07 71.89 L376.45 73.09 L374.94 74.48 L373.55 76.01 L372.24 77.67 L371.02 79.43 L369.88 81.28 L368.81 83.2 L367.8 85.18 L366.86 87.23 L365.96 89.35 L365.12 91.54 L364.31 93.77 L363.56 96.03 L362.84 98.3 L362.15 100.57 L361.5 102.83 L360.88 105.06 L360.28 107.28 L359.72 109.49 L359.18 111.68 L358.66 113.86 L358.16 116.02 L357.69 118.16 L357.23 120.28 L356.79 122.38 L356.37 124.45 L355.97 126.51 L355.58 128.54 L355.2 130.54 L354.84 132.52 L354.49 134.47 L354.15 136.34 L353.83 138.19 L353.51 140.02 L353.21 141.82 L352.91 143.59 L352.63 145.34 L352.35 147.07 L352.08 148.77 L351.82 150.45 L351.57 152.11 L351.33 153.74 L351.09 155.34 L350.86 156.93 L350.64 158.49 L350.42 160.02 L350.21 161.53 L350 163.02 L349.8 164.49 L349.61 165.93 L349.42 167.36 L349.23 168.76 L349.05 170.13 L348.88 171.49 L348.71 172.82 L348.54 174.14 L348.38 175.43 L348.22 176.7 L348.06 177.96 L347.91 179.19 L347.76 180.4 L347.62 181.59 L347.48 182.77 L347.34 183.92 L347.2 185.06 L347.07 186.17 L346.94 187.27 L346.82 188.35 L346.69 189.42 L346.57 190.46 L346.45 191.49 L346.33 192.5 L346.22 193.49 L346.11 194.47" stroke-width="2" stroke-linejoin="round"/>
<use href="#td" x="581.56" y="163.4"/>
<use href="#td" x="535.92" y="161.47"/>
<use href="#td" x="504.62" y="155.57"/>
<use href="#td" x="481.8" y="147.76"/>
<use href="#td" x="464.41" y="139.04"/>
<use href="#td" x="450.72" y="129.94"/>
<use href="#td" x="439.66" y="120.75"/>
<use href="#td" x="430.53" y="111.69"/>
<use href="#td" x="422.87" y="103.02"/>
<use href="#td" x="416.35" y="95.21"/>
<use href="#td" x="410.73" y="88.42"/>
<use href="#td" x="405.84" y="82.74"/>
<use href="#td" x="401.55" y="78.16"/>
<use href="#td" x="397.74" y="74.8"/>
<use href="#td" x="394.35" y="72.48"/>
<use href="#td" x="391.31" y="70.94"/>
<use href="#td" x="388.56" y="70.04"/>
<use href="#td" x="386.07" y="69.66"/>
<use href="#td" x="383.81" y="69.73"/>
<use href="#td" x="381.73" y="70.17"/>
<use href="#td" x="379.83" y="70.9"/>
<use href="#td" x="378.07" y="71.89"/>
<use href="#td" x="376.45" y="73.09"/>
<use href="#td" x="374.94" y="74.48"/>
<use href="#td" x="373.55" y="76.01"/>
<use href="#td" x="372.24" y="77.67"/>
<use href="#td" x="371.02" y="79.43"/>
<use href="#td" x="369.88" y="81.28"/>
<use href="#td" x="368.81" y="83.2"/>
<use href="#td" x="367.8" y="85.18"/>
<use href="#td" x="366.86" y="87.23"/>
<use href="#td" x="365.96" y="89.35"/>
<use href="#td" x="365.12" y="91.54"/>
<use href="#td" x="364.31" y="93.77"/>
<use href="#td" x="363.56" y="96.03"/>
<use href="#td" x="362.84" y="98.3"/>
<use href="#td" x="362.15" y="100.57"/>
<use href="#td" x="361.5" y="102.83"/>
<use href="#td" x="360.88" y="105.06"/>
<use href="#td" x="360.28" y="107.28"/>
<use href="#td" x="359.72" y="109.49"/>
<use href="#td" x="359.18" y="111.68"/>
<use href="#td" x="358.66" y="113.86"/>
<use href="#td" x="358.16" y="116.02"/>
<use href="#td" x="357.69" y="118.16"/>
<use href="#td" x="357.23" y="120.28"/>
<use href="#td" x="356.79" y="122.38"/>
<use href="#td" x="356.37" y="124.45"/>
<use href="#td" x="355.97" y="126.51"/>
<use href="#td" x="355.58" y="128.54"/>
<use href="#td" x="355.2" y="130.54"/>
<use href="#td" x="354.84" y="132.52"/>
<use href="#td" x="354.49" y="134.47"/>
<use href="#td" x="354.15" y="136.34"/>
<use href="#td" x="353.83" y="138.19"/>
<use href="#td" x="353.51" y="140.02"/>
<use href="#td" x="353.21" y="141.82"/>
<use href="#td" x="352.91" y="143.59"/>
<use href="#td" x="352.63" y="145.34"/>
<use href="#td" x="352.35" y="147.07"/>
<use href="#td" x="352.08" y="148.77"/>
<use href="#td" x="351.82" y="150.45"/>
<use href="#td" x="351.57" y="152.11"/>
<use href="#td" x="351.33" y="153.74"/>
<use href="#td" x="351.09" y="155.34"/>
<use href="#td" x="350.86" y="156.93"/>
<use href="#td" x="350.64" y="158.49"/>
<use href="#td" x="350.42" y="160.02"/>
<use href="#td" x="350.21" y="161.53"/>
<use href="#td" x="350" y="163.02"/>
<use href="#td" x="349.8" y="164.49"/>
<use href="#td" x="349.61" y="165.93"/>
<use href="#td" x="349.42" y="167.36"/>
<use href="#td" x="349.23" y="168.76"/>
<use href="#td" x="349.05" y="170.13"/>
<use href="#td" x="348.88" y="171.49"/>
<use href="#td" x="348.71" y="172.82"/>
<use href="#td" x="348.54" y="174.14"/>
<use href="#td" x="348.38" y="175.43"/>
<use href="#td" x="348.22" y="176.7"/>
<use href="#td" x="348.06" y="177.96"/>
<use href="#td" x="347.91" y="179.19"/>
<use href="#td" x="347.76" y="180.4"/>
<use href="#td" x="347.62" y="181.59"/>
<use href="#td" x="347.48" y="182.77"/>
<use href="#td" x="347.34" y="183.92"/>
<use href="#td" x="347.2" y="185.06"/>
<use href="#td" x="347.07" y="186.17"/>
<use href="#td" x="346.94" y="187.27"/>
<use href="#td" x="346.82" y="188.35"/>
<use href="#td" x="346.69" y="189.42"/>
<use href="#td" x="346.57" y="190.46"/>
<use href="#td" x="346.45" y="191.49"/>
<use href="#td" x="346.33" y="192.5"/>
<use href="#td" x="346.22" y="193.49"/>
<use href="#td" x="346.11" y="194.47"/>
</g>
<g stroke="#000" fill="none">
<rect x="101.75" y="36" width="478.25" height="478.3" stroke-width="2"/>
<path d="M170.07 514.30 v-5.4 M170.07 36.00 v5.4 M238.39 514.30 v-5.4 M238.39 36.00 v5.4 M306.71 514.30 v-5.4 M306.71 36.00 v5.4 M375.04 514.30 v-5.4 M375.04 36.00 v5.4 M443.36 514.30 v-5.4 M443.36 36.00 v5.4 M511.68 514.30 v-5.4 M511.68 36.00 v5.4 M101.75 418.64 h5.4 M580.00 418.64 h-5.4 M101.75 322.98 h5.4 M580.00 322.98 h-5.4 M101.75 227.32 h5.4 M580.00 227.32 h-5.4 M101.75 131.66 h5.4 M580.00 131.66 h-5.4" stroke-width="1.8"/>
<rect x="335.1" y="53.8" width="226.85" height="227.2" stroke-width="2"/>
<path d="M399.91 281.00 v-5.4 M399.91 53.80 v5.4 M464.73 281.00 v-5.4 M464.73 53.80 v5.4 M529.54 281.00 v-5.4 M529.54 53.80 v5.4 M335.10 252.60 h5.4 M561.95 252.60 h-5.4 M335.10 224.20 h5.4 M561.95 224.20 h-5.4 M335.10 195.80 h5.4 M561.95 195.80 h-5.4 M335.10 167.40 h5.4 M561.95 167.40 h-5.4 M335.10 139.00 h5.4 M561.95 139.00 h-5.4 M335.10 110.60 h5.4 M561.95 110.60 h-5.4 M335.10 82.20 h5.4 M561.95 82.20 h-5.4" stroke-width="1.8"/>
</g>
<g stroke="#0000ff" fill="none"><path d="M229.3 428.1 H281.2" stroke-width="2"/><use href="#sq" x="255.3" y="428.1"/></g>
<g stroke="#ff0000" fill="none"><path d="M229.3 447.5 H281.2" stroke-width="2"/><use href="#ci" x="255.3" y="447.5"/></g>
<g stroke="#9400d3" fill="none"><path d="M229.3 466.9 H281.2" stroke-width="2"/><use href="#tu" x="255.3" y="466.9"/></g>
<g stroke="#000000" fill="none"><path d="M229.3 486.2 H281.2" stroke-width="2"/><use href="#td" x="255.3" y="486.2"/></g>
<g font-family="'Liberation Serif', serif" font-size="18" fill="#303030">
<text transform="translate(79.68 519.30) scale(1.0719 0.9942)" font-size="18">0</text>
<text transform="translate(46.33 423.64) scale(1.0712 0.9942)" font-size="18">0.002</text>
<text transform="translate(46.34 327.98) scale(1.0517 0.9942)" font-size="18">0.004</text>
<text transform="translate(46.34 232.32) scale(1.0589 0.9942)" font-size="18">0.006</text>
<text transform="translate(46.33 136.66) scale(1.0626 0.9942)" font-size="18">0.008</text>
<text transform="translate(55.69 41.00) scale(1.0540 0.9942)" font-size="18">0.01</text>
<text transform="translate(96.93 538.75) scale(1.0719 0.9942)" font-size="18">0</text>
<text transform="translate(152.81 538.75) scale(1.0530 0.9942)" font-size="18">0.05</text>
<text transform="translate(225.48 538.75) scale(1.0605 0.9942)" font-size="18">0.1</text>
<text transform="translate(289.35 538.75) scale(1.0596 0.9942)" font-size="18">0.15</text>
<text transform="translate(362.03 538.75) scale(1.1231 0.9942)" font-size="18">0.2</text>
<text transform="translate(425.99 538.75) scale(1.0596 0.9942)" font-size="18">0.25</text>
<text transform="translate(498.53 538.75) scale(1.1087 0.9942)" font-size="18">0.3</text>
<text transform="translate(562.43 538.75) scale(1.0596 0.9942)" font-size="18">0.35</text>
<text transform="translate(289.38 285.85) scale(1.0713 0.9942)" font-size="18">0.08</text>
<text transform="translate(274.77 286.59) scale(1.4277 0.9333)" font-size="18">−</text>
<text transform="translate(289.38 257.45) scale(1.0665 0.9942)" font-size="18">0.06</text>
<text transform="translate(274.77 258.19) scale(1.4277 0.9333)" font-size="18">−</text>
<text transform="translate(289.39 229.05) scale(1.0571 0.9942)" font-size="18">0.04</text>
<text transform="translate(274.77 229.79) scale(1.4277 0.9333)" font-size="18">−</text>
<text transform="translate(289.37 200.65) scale(1.0826 0.9942)" font-size="18">0.02</text>
<text transform="translate(274.77 201.39) scale(1.4277 0.9333)" font-size="18">−</text>
<text transform="translate(313.48 172.25) scale(1.0719 0.9942)" font-size="18">0</text>
<text transform="translate(289.37 143.85) scale(1.0826 0.9942)" font-size="18">0.02</text>
<text transform="translate(289.39 115.45) scale(1.0571 0.9942)" font-size="18">0.04</text>
<text transform="translate(289.38 87.05) scale(1.0665 0.9942)" font-size="18">0.06</text>
<text transform="translate(289.38 58.65) scale(1.0713 0.9942)" font-size="18">0.08</text>
<text transform="translate(330.28 305.95) scale(1.0719 0.9942)" font-size="18">0</text>
<text transform="translate(387.00 305.95) scale(1.0605 0.9942)" font-size="18">0.1</text>
<text transform="translate(451.72 305.95) scale(1.1231 0.9942)" font-size="18">0.2</text>
<text transform="translate(516.39 305.95) scale(1.1087 0.9942)" font-size="18">0.3</text>
<text transform="translate(332.99 567.80) scale(1.3737 1.0857)" font-size="18" font-style="italic">T</text>
<text transform="translate(440.52 334.00) scale(1.2626 1.0348)" font-size="18" font-style="italic">T</text>
<g transform="translate(36.65 302.6) rotate(-90)">
<text transform="translate(-0.61 0.00) scale(1.2726 1.0522)" font-size="18">Δ</text>
<text transform="translate(16.00 -0.00) scale(1.1200 1.0433)" font-size="18" font-style="italic">F</text>
<text transform="translate(30.54 0.62) scale(1.2513 1.2244)" font-size="18">(</text>
<text transform="translate(38.11 0.03) scale(0.9829 0.9693)" font-size="18" font-style="italic">π</text>
<text transform="translate(47.78 0.62) scale(1.2298 1.2244)" font-size="18">)</text>
</g>
<g transform="translate(266.35 223.7) rotate(-90)">
<text transform="translate(-0.99 1.44) scale(1.3740 1.0000)" font-size="18">−</text>
<text transform="translate(13.20 0.02) scale(1.1052 1.0087)" font-size="18" font-style="italic">d</text>
<text transform="translate(23.83 0.00) scale(1.2873 1.0522)" font-size="18">Δ</text>
<text transform="translate(40.40 -0.00) scale(1.0933 1.0433)" font-size="18" font-style="italic">F</text>
<text transform="translate(54.68 0.62) scale(1.2082 1.2244)" font-size="18">(</text>
<text transform="translate(62.51 0.03) scale(0.9509 0.9693)" font-size="18" font-style="italic">π</text>
<text transform="translate(72.31 0.62) scale(1.1866 1.2244)" font-size="18">)</text>
<text transform="translate(81.70 5.00) scale(1.5415 1.6584)" font-size="18">/</text>
<text transform="translate(90.80 0.02) scale(1.1052 1.0087)" font-size="18" font-style="italic">d</text>
<text transform="translate(100.42 0.00) scale(1.1818 1.0348)" font-size="18" font-style="italic">T</text>
</g>
<text transform="translate(138.67 433.00) scale(1.1571 0.9992)" font-size="18" font-style="italic">h</text>
<text transform="translate(150.49 435.30) scale(0.8459 0.6763)" font-size="18" font-style="italic">z</text>
<text transform="translate(163.16 433.00) scale(1.4934 1.0000)" font-size="18">=</text>
<text transform="translate(183.27 433.00) scale(1.0830 0.9942)" font-size="18">0.56</text>
<text transform="translate(138.67 452.50) scale(1.1571 0.9992)" font-size="18" font-style="italic">h</text>
<text transform="translate(150.49 454.80) scale(0.8459 0.6763)" font-size="18" font-style="italic">z</text>
<text transform="translate(163.16 452.50) scale(1.4934 1.0000)" font-size="18">=</text>
<text transform="translate(183.26 452.50) scale(1.0895 0.9942)" font-size="18">0.75</text>
<text transform="translate(138.67 472.00) scale(1.1571 0.9992)" font-size="18" font-style="italic">h</text>
<text transform="translate(150.49 474.30) scale(0.8459 0.6763)" font-size="18" font-style="italic">z</text>
<text transform="translate(163.16 472.00) scale(1.4934 1.0000)" font-size="18">=</text>
<text transform="translate(183.61 472.00) scale(1.0782 0.9979)" font-size="18">4.69</text>
<text transform="translate(138.67 491.50) scale(1.1571 0.9992)" font-size="18" font-style="italic">h</text>
<text transform="translate(150.49 493.80) scale(0.8459 0.6763)" font-size="18" font-style="italic">z</text>
<text transform="translate(163.16 491.50) scale(1.4934 1.0000)" font-size="18">=</text>
<text transform="translate(183.61 491.50) scale(1.0766 0.9942)" font-size="18">4.88</text>
</g>
</svg>
</body></html>
